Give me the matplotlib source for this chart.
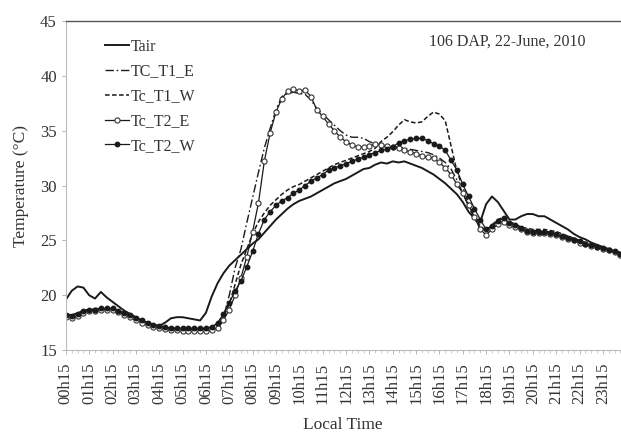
import numpy as np
import matplotlib
matplotlib.use("Agg")
import matplotlib.pyplot as plt
from matplotlib.ticker import MultipleLocator, FixedLocator

plt.rcParams['font.family'] = ['Liberation Serif', 'DejaVu Serif']

# 15-min readings, each row = [h:15, h:30, h:45, h+1:00]
tair = [
    19.6, 20.4, 20.8, 20.7,
    20.0, 19.7, 20.3, 19.8,
    19.4, 19.0, 18.6, 18.3,
    18.0, 17.7, 17.5, 17.3,
    17.2, 17.5, 17.9, 18.0,
    18.0, 17.9, 17.8, 17.7,
    18.4, 19.9, 21.1, 22.0,
    22.7, 23.2, 23.7, 24.2,
    24.7, 25.1, 25.7, 26.3,
    26.9, 27.4, 27.9, 28.3,
    28.6, 28.8, 29.0, 29.3,
    29.6, 29.9, 30.2, 30.4,
    30.6, 30.9, 31.2, 31.5,
    31.6, 31.9, 32.1, 32.0,
    32.2, 32.1, 32.2, 32.0,
    31.8, 31.6, 31.3, 31.0,
    30.6, 30.2, 29.7, 29.2,
    28.5, 27.6, 27.0, 26.7,
    28.3, 29.0, 28.5, 27.7,
    26.9, 26.9, 27.2, 27.4,
    27.4, 27.2, 27.2, 26.9,
    26.6, 26.3, 26.0, 25.6,
    25.3, 25.1, 24.8, 24.6,
    24.4, 24.2, 24.0, 23.9,
]

tc_t1_e = [
    18.3, 18.2, 18.3, 18.6,
    18.7, 18.7, 18.8, 18.8,
    18.7, 18.6, 18.4, 18.1,
    17.9, 17.7, 17.5, 17.3,
    17.2, 17.1, 17.0, 16.9,
    16.9, 16.9, 16.9, 16.9,
    16.9, 17.0, 17.3, 18.0,
    20.0, 22.5, 24.2, 26.6,
    28.9, 31.2, 33.4, 35.2,
    36.9, 38.1, 38.4, 38.5,
    38.4, 38.3, 37.8, 37.0,
    36.5, 36.0, 35.5, 35.0,
    34.6, 34.4, 34.4, 34.3,
    34.0, 33.8, 33.6, 33.5,
    33.5, 33.5, 33.4, 33.3,
    33.2, 33.1, 33.0, 32.8,
    32.5, 32.1, 31.5, 30.5,
    29.3, 28.1, 27.0, 26.1,
    25.8, 26.3, 26.8, 26.9,
    26.6, 26.4, 26.1, 26.0,
    25.9, 25.9, 25.8, 25.8,
    25.7, 25.5, 25.3, 25.1,
    24.9, 24.8, 24.6, 24.5,
    24.3, 24.2, 24.0, 23.9,
]

tc_t1_w = [
    18.3, 18.2, 18.4, 18.6,
    18.7, 18.8, 18.8, 18.8,
    18.7, 18.6, 18.4, 18.1,
    17.9, 17.7, 17.5, 17.3,
    17.2, 17.1, 17.0, 17.0,
    16.9, 16.9, 16.9, 16.9,
    17.0, 17.1, 17.4, 18.0,
    19.2, 21.0, 22.8, 24.2,
    25.6, 26.7, 27.5, 28.2,
    28.7, 29.2, 29.6, 29.9,
    30.1, 30.4, 30.7, 31.0,
    31.3, 31.6, 31.9, 32.1,
    32.3, 32.5, 32.7, 32.9,
    33.1, 33.4, 34.0, 34.4,
    34.9, 35.5, 36.0, 35.8,
    35.7, 35.8, 36.3, 36.7,
    36.5, 35.9, 33.6, 31.3,
    29.8, 28.4, 27.2, 26.3,
    25.9, 26.4, 26.9, 27.1,
    26.7, 26.5, 26.2, 26.1,
    26.0, 26.0, 26.0, 25.9,
    25.8, 25.6, 25.4, 25.2,
    25.0, 24.8, 24.7, 24.5,
    24.4, 24.2, 24.0, 23.9,
]

tc_t2_e = [
    18.0, 17.9, 18.1, 18.4,
    18.6, 18.6, 18.7, 18.7,
    18.7, 18.5, 18.2, 18.0,
    17.7, 17.5, 17.3, 17.1,
    17.0, 16.9, 16.8, 16.8,
    16.7, 16.7, 16.7, 16.7,
    16.7, 16.8, 17.0, 17.7,
    18.7, 20.0, 21.6, 23.5,
    25.8, 28.4, 32.2, 34.8,
    36.7, 37.9, 38.6, 38.8,
    38.6, 38.7, 38.1, 36.9,
    36.3, 35.6, 35.0, 34.4,
    34.0, 33.7, 33.5, 33.5,
    33.6, 33.8, 33.7, 33.6,
    33.5, 33.4, 33.2, 33.1,
    32.9, 32.7, 32.6, 32.5,
    32.1, 31.6, 31.0, 30.1,
    29.3, 28.2, 27.1, 26.0,
    25.5, 26.0, 26.5, 26.7,
    26.4, 26.2, 26.0, 25.8,
    25.7, 25.7, 25.7, 25.6,
    25.5, 25.3, 25.1, 25.0,
    24.8, 24.7, 24.5, 24.4,
    24.2, 24.1, 23.9, 23.7,
]

tc_t2_w = [
    18.2, 18.1, 18.3, 18.6,
    18.7, 18.7, 18.8, 18.8,
    18.8, 18.6, 18.4, 18.2,
    17.9, 17.7, 17.5, 17.3,
    17.2, 17.1, 17.0, 17.0,
    17.0, 17.0, 17.0, 17.0,
    17.0, 17.1, 17.5, 18.3,
    19.3, 20.4, 21.3, 22.6,
    24.0, 25.6, 26.9, 27.6,
    28.2, 28.6, 28.9, 29.3,
    29.6, 30.0, 30.4, 30.7,
    31.0, 31.4, 31.6, 31.8,
    32.0, 32.2, 32.4, 32.6,
    32.8, 33.0, 33.2, 33.3,
    33.5, 33.9, 34.1, 34.2,
    34.3, 34.3, 34.1, 33.8,
    33.6, 33.2, 32.3, 31.4,
    30.1, 29.0, 27.9, 26.9,
    26.0, 26.3, 26.8, 27.0,
    26.6, 26.4, 26.1, 25.9,
    25.8, 25.8, 25.8, 25.7,
    25.6, 25.4, 25.2, 25.0,
    24.9, 24.7, 24.6, 24.4,
    24.3, 24.1, 24.0, 23.8,
]

tick_labels = [f"{h:02d}h15" for h in range(24)]
n = len(tair)
t = 0.25 + 0.25 * np.arange(n)  # hours

fig = plt.figure(figsize=(6.21, 4.36), dpi=100)
ax = fig.add_axes([0.106, 0.197, 0.893, 0.755])

k = '#1a1a1a'
ax.plot(t, tair, color=k, lw=1.4, label='Tair')
ax.plot(t, tc_t1_e, color=k, lw=1.0, linestyle=(0, (6, 2, 1.2, 2)), label='TC_T1_E')
ax.plot(t, tc_t1_w, color=k, lw=1.1, linestyle=(0, (3, 1.6)), label='Tc_T1_W')
ax.plot(t, tc_t2_e, color=k, lw=0.9, marker='o', markersize=3.7, markerfacecolor='white',
        markeredgecolor='#333333', markeredgewidth=0.8, label='Tc_T2_E')
ax.plot(t, tc_t2_w, color=k, lw=0.9, marker='o', markersize=3.2, markerfacecolor=k,
        markeredgecolor=k, label='Tc_T2_W')

ax.set_xlim(t[0], t[-1])
ax.set_ylim(15, 45)
ax.yaxis.set_major_locator(MultipleLocator(5))
ax.xaxis.set_major_locator(FixedLocator(0.25 + np.arange(24)))
ax.xaxis.set_minor_locator(FixedLocator(t))
ax.set_xticklabels(tick_labels, rotation=90, fontsize=12, color='#333333')
ax.tick_params(axis='y', labelsize=12, labelcolor='#333333', length=3, color='#aaaaaa', width=0.6)
ax.tick_params(axis='x', which='major', length=3, color='#aaaaaa', width=0.6, pad=6)
ax.tick_params(axis='x', which='minor', length=2, color='#bbbbbb', width=0.5)

ax.spines['right'].set_visible(False)
ax.spines['top'].set_color('#555555')
ax.spines['top'].set_linewidth(1.0)
for s in ['left', 'bottom']:
    ax.spines[s].set_color('#bbbbbb')
    ax.spines[s].set_linestyle((0, (1, 1)))
    ax.spines[s].set_linewidth(0.8)

ax.set_xlabel('Local Time', fontsize=12.5, color='#333333', labelpad=9)
ax.set_ylabel('Temperature (°C)', fontsize=12.5, color='#333333', labelpad=8)

ax.text(0.937, 0.936, '106 DAP, 22-June, 2010', transform=ax.transAxes, ha='right', va='center',
        fontsize=11.5, color='#333333')

leg = ax.legend(loc='upper left', bbox_to_anchor=(0.06, 0.965), frameon=False, fontsize=11.5,
                handlelength=1.5, handletextpad=0.1, labelspacing=0.55, borderaxespad=0)
for txt in leg.get_texts():
    txt.set_color('#333333')

fig.savefig('out.png', dpi=100)
